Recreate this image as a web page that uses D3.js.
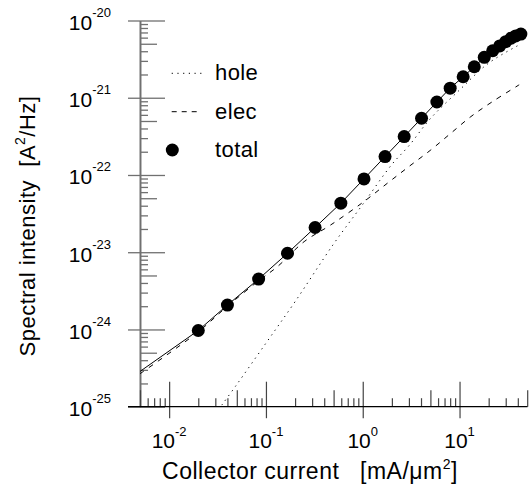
<!DOCTYPE html>
<html>
<head>
<meta charset="utf-8">
<script src="https://cdn.jsdelivr.net/npm/d3@7"></script>
<style>
  body { margin: 0; background: #fff; }
  text { font-family: "Liberation Sans", Arial, Helvetica, sans-serif; fill: #000; }
</style>
</head>
<body>
<div id="chart"></div>
<script>
const width = 531,
  height = 498;

// total noise (symbols)
const totalCurrent = [0.02, 0.04, 0.084, 0.167, 0.322, 0.594, 1.03, 1.7, 2.68, 4.05, 5.83, 8.0, 10.9, 14.2, 18, 22, 26, 30, 34, 38, 43];
const totalNoise = [9.7e-25, 2.07e-24, 4.49e-24, 9.7e-24, 2.09e-23, 4.32e-23, 8.9e-23, 1.73e-22, 3.14e-22, 5.43e-22, 8.8e-22, 1.33e-21, 1.87e-21, 2.52e-21, 3.34e-21, 4.06e-21, 4.68e-21, 5.32e-21, 5.89e-21, 6.31e-21, 6.68e-21];
// the solid line starts at the left axis
const fitCurrent = [0.005].concat(totalCurrent);
const fitNoise = [2.86e-25].concat(totalNoise);

const holeCurrent = [0.035, 0.05, 0.1, 0.2, 0.5, 1, 2, 3, 5, 10, 20, 43];
const holeNoise = [1.05e-25, 1.94e-25, 6.65e-25, 2.29e-24, 1.28e-23, 4.16e-23, 1.37e-22, 2.39e-22, 5.37e-22, 1.26e-21, 2.81e-21, 4.96e-21];

const elecCurrent = [0.005, 0.02, 0.04, 0.084, 0.132, 0.248, 0.468, 1.03, 1.8, 3.01, 5.05, 8.13, 13.1, 21.9, 41.3];
const elecNoise = [2.67e-25, 9.33e-25, 2.0e-24, 4.27e-24, 6.53e-24, 1.37e-23, 2.26e-23, 4.53e-23, 7.83e-23, 1.29e-22, 2.11e-22, 3.47e-22, 5.7e-22, 8.91e-22, 1.47e-21];

const xMajor = [0.01, 0.1, 1, 10];
const xExp = ["-2", "-1", "0", "1"];
const yMajor = [1e-20, 1e-21, 1e-22, 1e-23, 1e-24, 1e-25];
const yExp = ["-20", "-21", "-22", "-23", "-24", "-25"];

const x = d3.scaleLog().domain([0.005, 50]).range([140, 527.2]);
const y = d3.scaleLog().domain([1e-25, 1e-20]).range([406.7, 20.5]);

// minor tick positions (2..9 per decade, 5 gets a longer tick)
function minors(lo, hi, wantFive) {
  const out = [];
  for (let e = -30; e <= 5; e++) {
    for (let m = 2; m <= 9; m++) {
      const v = m * Math.pow(10, e);
      if (v >= lo * 0.999 && v <= hi * 1.001 && (m === 5) === wantFive) out.push(v);
    }
  }
  return out;
}

const svg = d3
  .select("#chart")
  .append("svg")
  .attr("width", width)
  .attr("height", height);

// y axis
const yg = svg.append("g").attr("transform", "translate(140,0)");
yg.append("g").call(d3.axisRight(y).tickValues(minors(1e-25, 1e-20, false)).tickSize(8).tickFormat("").tickSizeOuter(0));
yg.append("g").call(d3.axisRight(y).tickValues(minors(1e-25, 1e-20, true)).tickSize(17).tickFormat("").tickSizeOuter(0));
yg.append("g").call(d3.axisRight(y).tickValues(yMajor).tickSize(25).tickFormat("").tickSizeOuter(0));
yg.append("g").call(d3.axisLeft(y).tickValues(yMajor).tickSize(12).tickFormat("").tickSizeOuter(0));
yg.selectAll("path.domain, line").attr("stroke", "#707070").attr("stroke-width", 1.3);

// x axis
const xg = svg.append("g").attr("transform", "translate(0,406.7)");
xg.append("g").call(d3.axisTop(x).tickValues(minors(0.005, 50, false)).tickSize(8.5).tickFormat("").tickSizeOuter(0));
xg.append("g").call(d3.axisTop(x).tickValues(minors(0.005, 50, true)).tickSize(16.5).tickFormat("").tickSizeOuter(0));
xg.append("g").call(d3.axisTop(x).tickValues(xMajor).tickSize(25).tickFormat("").tickSizeOuter(0));
xg.append("g").call(d3.axisBottom(x).tickValues(xMajor).tickSize(11.5).tickFormat("").tickSizeOuter(0));
xg.selectAll("path.domain").remove();
xg.selectAll("line").attr("stroke", "#444").attr("stroke-width", 1.2);
xg.append("line").attr("x1", 128).attr("x2", 527.5).attr("stroke", "#000").attr("stroke-width", 1.3);

// tick labels
const yl = svg
  .selectAll(".ylab")
  .data(yMajor)
  .enter()
  .append("text")
  .attr("class", "ylab")
  .attr("x", 111)
  .attr("y", (d) => y(d) + 9.5)
  .attr("text-anchor", "end")
  .style("font-size", "21px")
  .text("10");
yl.append("tspan")
  .attr("dy", -13)
  .style("font-size", "13px")
  .text((d, i) => yExp[i]);

const xl = svg
  .selectAll(".xlab")
  .data(xMajor)
  .enter()
  .append("text")
  .attr("class", "xlab")
  .attr("x", (d) => x(d))
  .attr("y", 448)
  .attr("text-anchor", "middle")
  .style("font-size", "21px")
  .text("10");
xl.append("tspan")
  .attr("dy", -12)
  .style("font-size", "13px")
  .text((d, i) => xExp[i]);

// axis titles
const xt = svg
  .append("text")
  .attr("x", 310)
  .attr("y", 479)
  .attr("text-anchor", "middle")
  .style("font-size", "23px")
  .style("letter-spacing", "0.5px")
  .style("white-space", "pre")
  .text("Collector current   [mA/\u03bcm");
xt.append("tspan").attr("dy", -10).style("font-size", "14px").text("2");
xt.append("tspan").attr("dy", 10).text("]");

const yt = svg
  .append("text")
  .attr("transform", "translate(35,226) rotate(-90)")
  .attr("text-anchor", "middle")
  .style("font-size", "22px")
  .style("letter-spacing", "0.5px")
  .style("white-space", "pre")
  .text("Spectral intensity  [A");
yt.append("tspan").attr("dy", -10).style("font-size", "14px").text("2");
yt.append("tspan").attr("dy", 10).text("/Hz]");

// curves
const line = (xs, ys, curve) =>
  d3
    .line()
    .x((d, i) => x(xs[i]))
    .y((d, i) => y(ys[i]))
    .curve(curve)(xs);

svg.append("path")
  .attr("d", line(holeCurrent, holeNoise, d3.curveCatmullRom.alpha(0.5)))
  .attr("fill", "none")
  .attr("stroke", "#000")
  .attr("stroke-width", 1)
  .attr("stroke-dasharray", "1.2,4.5");

svg.append("path")
  .attr("d", line(elecCurrent, elecNoise, d3.curveCatmullRom.alpha(0.5)))
  .attr("fill", "none")
  .attr("stroke", "#000")
  .attr("stroke-width", 1)
  .attr("stroke-dasharray", "5,6");

svg.append("path")
  .attr("d", line(fitCurrent, fitNoise, d3.curveLinear))
  .attr("fill", "none")
  .attr("stroke", "#000")
  .attr("stroke-width", 1);

svg
  .selectAll(".dot")
  .data(totalCurrent)
  .enter()
  .append("circle")
  .attr("class", "dot")
  .attr("cx", (d) => x(d))
  .attr("cy", (d, i) => y(totalNoise[i]))
  .attr("r", 6.5)
  .attr("fill", "#000");

// legend
const legend = svg.append("g").style("font-size", "22px").style("letter-spacing", "0.4px");
legend.append("line")
  .attr("x1", 171.7).attr("x2", 201.7).attr("y1", 73.3).attr("y2", 73.3)
  .attr("stroke", "#000").attr("stroke-dasharray", "1.2,4.5");
legend.append("text").attr("x", 215).attr("y", 80).text("hole");
legend.append("line")
  .attr("x1", 171.7).attr("x2", 201.7).attr("y1", 111.7).attr("y2", 111.7)
  .attr("stroke", "#000").attr("stroke-dasharray", "5,5");
legend.append("text").attr("x", 215).attr("y", 119).text("elec");
legend.append("circle").attr("cx", 172.3).attr("cy", 150).attr("r", 6.5).attr("fill", "#000");
legend.append("text").attr("x", 215).attr("y", 156.5).text("total");
</script>
</body>
</html>
